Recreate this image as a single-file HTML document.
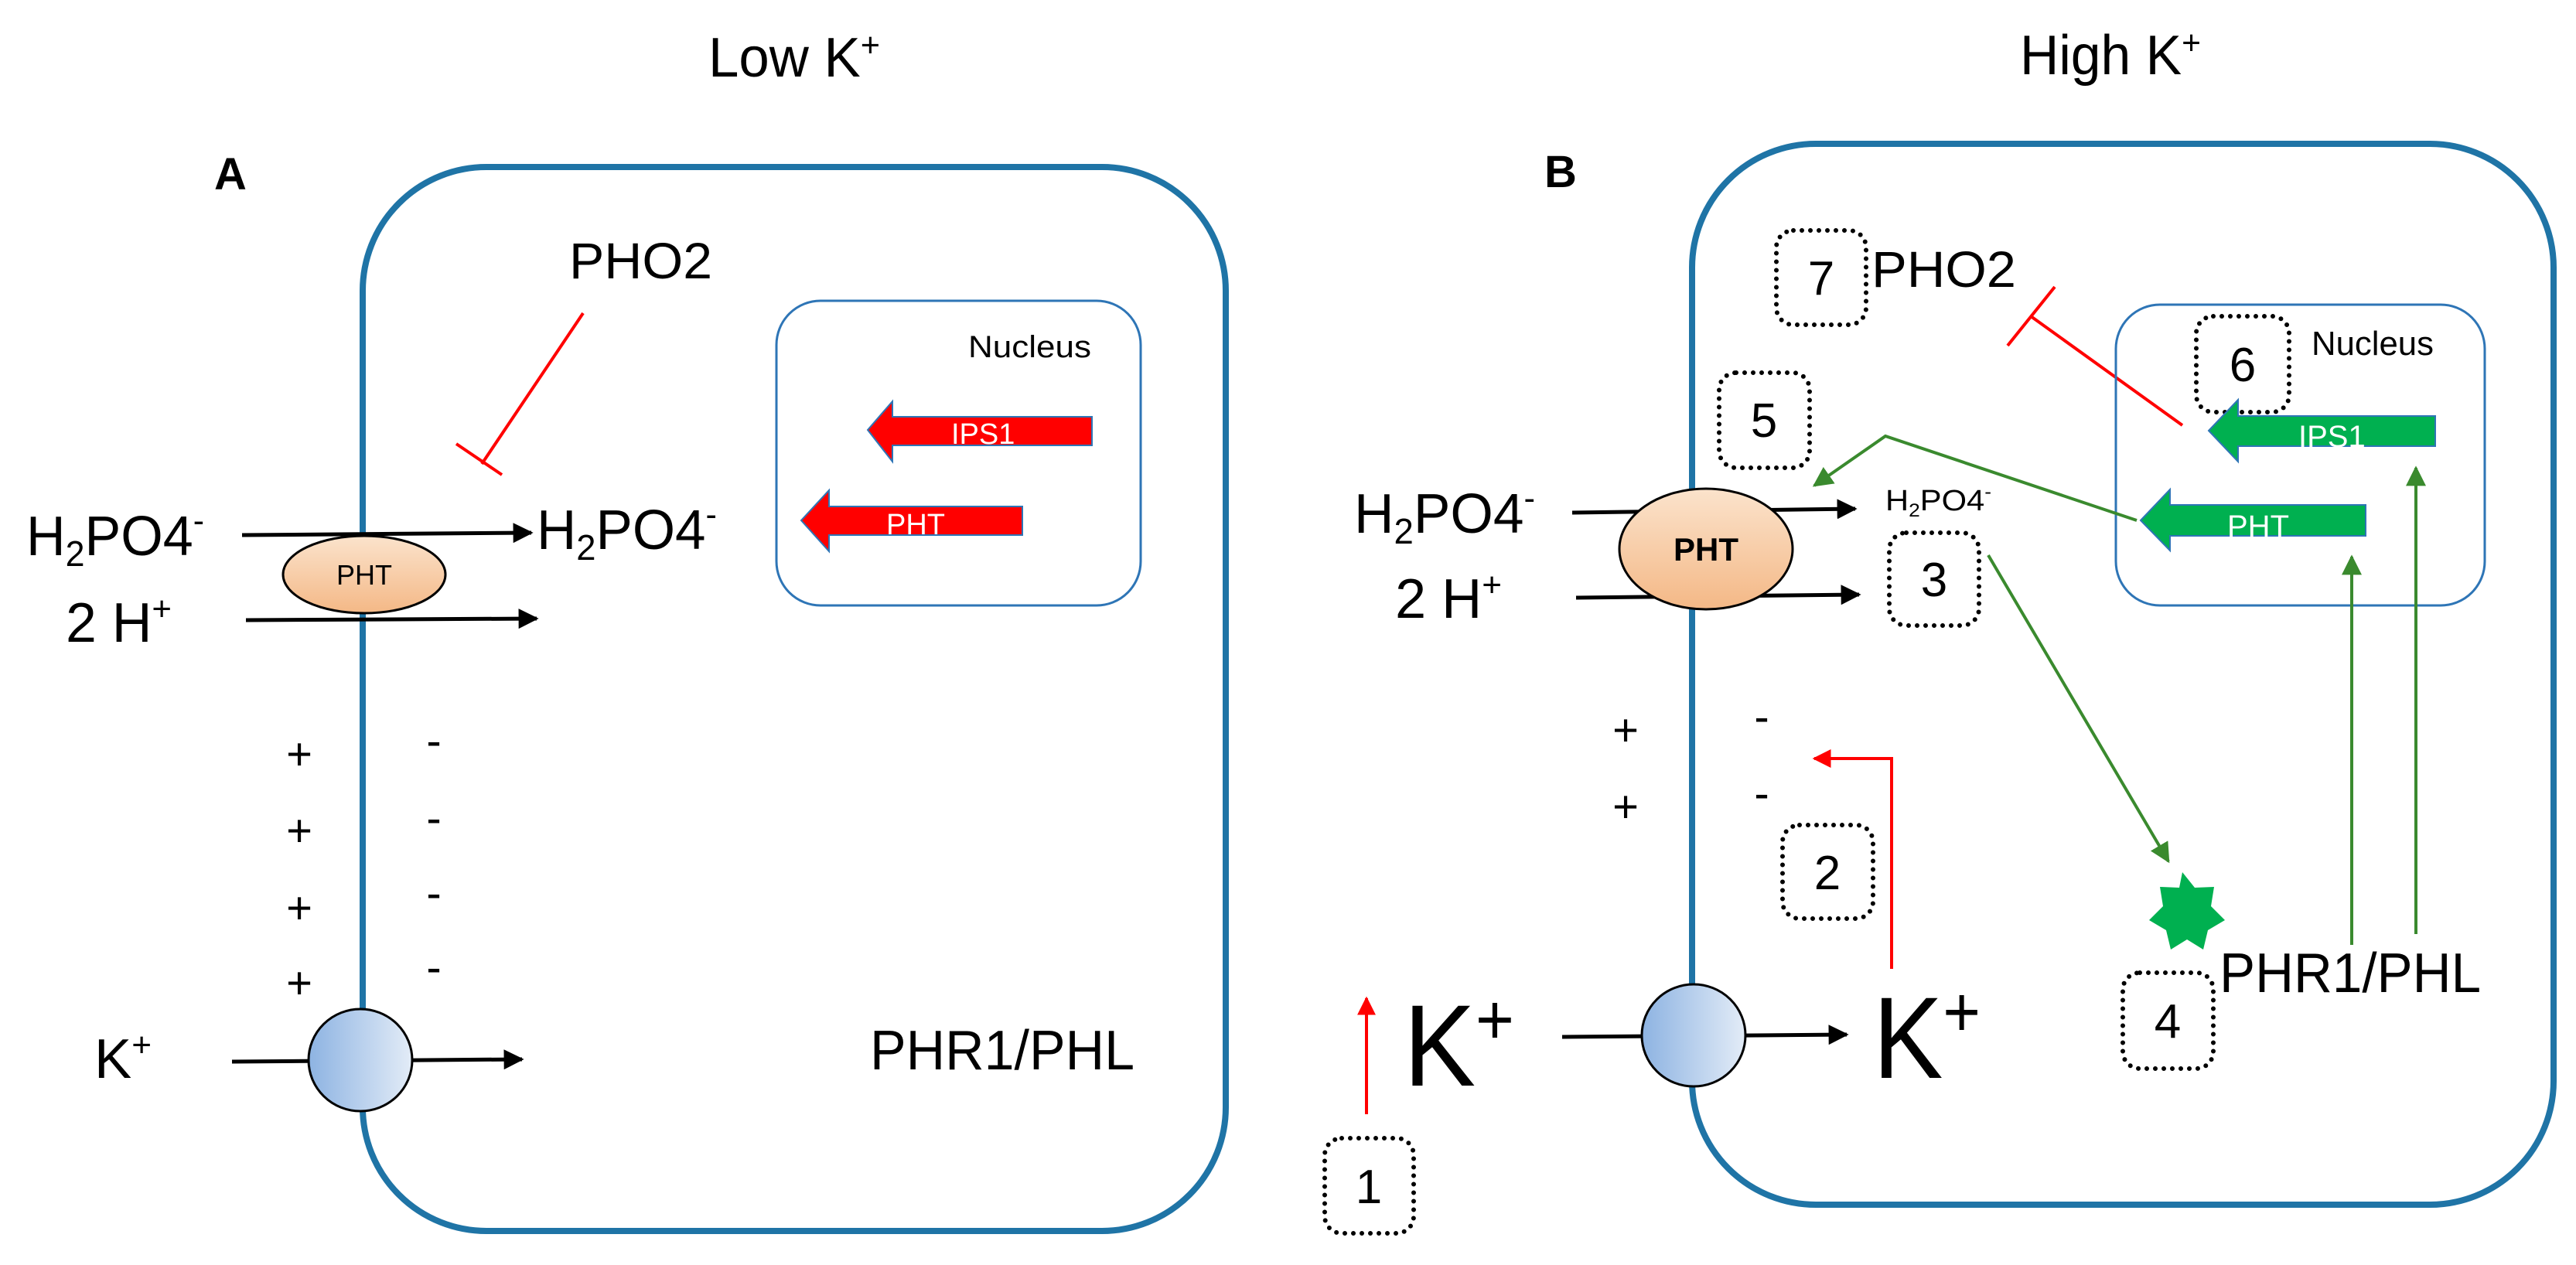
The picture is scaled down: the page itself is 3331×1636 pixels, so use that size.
<!DOCTYPE html>
<html><head><meta charset="utf-8"><style>html,body{margin:0;padding:0;background:#fff}svg{display:block}text{font-family:"Liberation Sans",sans-serif;fill:#000}</style></head>
<body>
<svg width="3331" height="1636" viewBox="0 0 3331 1636" xmlns="http://www.w3.org/2000/svg">
<defs>
<linearGradient id="peach" x1="0" y1="0" x2="0" y2="1"><stop offset="0" stop-color="#fbe3cc"/><stop offset="1" stop-color="#f4b886"/></linearGradient>
<linearGradient id="blue" x1="0" y1="0" x2="1" y2="0"><stop offset="0" stop-color="#8db3e2"/><stop offset="1" stop-color="#e3ecf7"/></linearGradient>
<marker id="ar" viewBox="0 0 10 10" refX="9" refY="5" markerWidth="24" markerHeight="24" orient="auto" markerUnits="userSpaceOnUse"><path d="M0,0 L10,5 L0,10z" fill="#f00"/></marker>
<marker id="ag" viewBox="0 0 10 10" refX="9" refY="5" markerWidth="26" markerHeight="26" orient="auto" markerUnits="userSpaceOnUse"><path d="M0,0 L10,5 L0,10z" fill="#3a8a2e"/></marker>
<marker id="abig" viewBox="0 0 10 10" refX="9" refY="5" markerWidth="26" markerHeight="26" orient="auto" markerUnits="userSpaceOnUse"><path d="M0,0 L10,5 L0,10z" fill="#000"/></marker>
</defs>

<!-- ===== Panel A ===== -->
<text x="916" y="99" font-size="72" textLength="222" lengthAdjust="spacingAndGlyphs">Low K<tspan font-size="44" dy="-26">+</tspan></text>
<text x="277" y="245" font-size="58" font-weight="bold">A</text>
<rect x="469" y="216" width="1116" height="1376" rx="160" fill="none" stroke="#1f74a6" stroke-width="8"/>
<text x="736" y="360" font-size="66" textLength="185" lengthAdjust="spacingAndGlyphs">PHO2</text>
<line x1="754" y1="405" x2="623" y2="600" stroke="#f00" stroke-width="4"/>
<line x1="590" y1="574" x2="649" y2="614" stroke="#f00" stroke-width="4"/>
<rect x="1004" y="389" width="471" height="394" rx="57" fill="none" stroke="#2e75b6" stroke-width="3"/>
<text x="1252" y="462" font-size="40" fill="#222" textLength="159" lengthAdjust="spacingAndGlyphs">Nucleus</text>
<path d="M1122,556 L1154,519 L1154,539 L1412,539 L1412,576 L1154,576 L1154,597 Z" fill="#f00" stroke="#2e75b6" stroke-width="2"/>
<text x="1230" y="574" font-size="38" style="fill:#fff">IPS1</text>
<path d="M1036,673 L1072,634 L1072,655 L1322,655 L1322,692 L1072,692 L1072,713 Z" fill="#f00" stroke="#2e75b6" stroke-width="2"/>
<text x="1146" y="691" font-size="38" style="fill:#fff">PHT</text>

<text x="34" y="718" font-size="72" textLength="230" lengthAdjust="spacingAndGlyphs">H<tspan font-size="46" dy="14">2</tspan><tspan dy="-14">PO4</tspan><tspan font-size="44" dy="-30">-</tspan></text>
<line x1="313" y1="692" x2="687" y2="689" stroke="#000" stroke-width="5" marker-end="url(#abig)"/>
<text x="694" y="710" font-size="72" textLength="233" lengthAdjust="spacingAndGlyphs">H<tspan font-size="46" dy="14">2</tspan><tspan dy="-14">PO4</tspan><tspan font-size="44" dy="-30">-</tspan></text>
<text x="85" y="830" font-size="72" textLength="137" lengthAdjust="spacingAndGlyphs">2 H<tspan font-size="44" dy="-28">+</tspan></text>
<line x1="318" y1="802" x2="694" y2="800" stroke="#000" stroke-width="5" marker-end="url(#abig)"/>
<ellipse cx="471" cy="743" rx="105" ry="50" fill="url(#peach)" stroke="#000" stroke-width="3"/>
<text x="471" y="756" font-size="36" text-anchor="middle" fill="#222">PHT</text>

<g font-size="58" text-anchor="middle">
<text x="387" y="995">+</text><text x="387" y="1094">+</text><text x="387" y="1194">+</text><text x="387" y="1291">+</text>
<text x="561" y="978">-</text><text x="561" y="1078">-</text><text x="561" y="1175">-</text><text x="561" y="1271">-</text>
</g>
<text x="122" y="1394" font-size="72" textLength="74" lengthAdjust="spacingAndGlyphs">K<tspan font-size="44" dy="-28">+</tspan></text>
<line x1="300" y1="1373" x2="675" y2="1370" stroke="#000" stroke-width="5" marker-end="url(#abig)"/>
<ellipse cx="466" cy="1371" rx="67" ry="66" fill="url(#blue)" stroke="#000" stroke-width="3"/>
<text x="1125" y="1383" font-size="72" textLength="342" lengthAdjust="spacingAndGlyphs">PHR1/PHL</text>

<!-- ===== Panel B ===== -->
<text x="2612" y="96" font-size="72" textLength="234" lengthAdjust="spacingAndGlyphs">High K<tspan font-size="44" dy="-26">+</tspan></text>
<text x="1997" y="242" font-size="58" font-weight="bold">B</text>
<rect x="2188" y="186" width="1114" height="1372" rx="160" fill="none" stroke="#1f74a6" stroke-width="8"/>

<g fill="none" stroke="#000" stroke-width="6" stroke-dasharray="0 11" stroke-linecap="round">
<rect x="2297" y="298" width="116" height="122" rx="22"/>
<rect x="2840" y="409" width="120" height="124" rx="22"/>
<rect x="2223" y="482" width="117" height="123" rx="22"/>
<rect x="2443" y="689" width="116" height="120" rx="22"/>
<rect x="2305" y="1067" width="117" height="121" rx="22"/>
<rect x="2745" y="1258" width="117" height="124" rx="22"/>
<rect x="1713" y="1472" width="115" height="123" rx="22"/>
</g>
<g font-size="62" text-anchor="middle">
<text x="2355" y="381">7</text><text x="2900" y="493">6</text><text x="2281" y="565">5</text>
<text x="2501" y="771">3</text><text x="2363" y="1150">2</text><text x="2803" y="1342">4</text><text x="1770" y="1556">1</text>
</g>

<text x="2420" y="371" font-size="66" textLength="187" lengthAdjust="spacingAndGlyphs">PHO2</text>
<line x1="2626" y1="409" x2="2822" y2="550" stroke="#f00" stroke-width="4"/>
<line x1="2596" y1="447" x2="2657" y2="371" stroke="#f00" stroke-width="4"/>

<rect x="2736" y="394" width="477" height="389" rx="57" fill="none" stroke="#2e75b6" stroke-width="3"/>
<text x="2989" y="459" font-size="44" fill="#222" textLength="158" lengthAdjust="spacingAndGlyphs">Nucleus</text>
<path d="M2856,557 L2894,517 L2894,538 L3149,538 L3149,577 L2894,577 L2894,597 Z" fill="#00b050" stroke="#2e75b6" stroke-width="2"/>
<text x="2972" y="578" font-size="40" style="fill:#fff">IPS1</text>
<path d="M2768,673 L2806,633 L2806,653 L3059,653 L3059,693 L2806,693 L2806,712 Z" fill="#00b050" stroke="#2e75b6" stroke-width="2"/>
<text x="2880" y="694" font-size="40" style="fill:#fff">PHT</text>

<polyline points="2763,673 2438,564 2346,628" fill="none" stroke="#3a8a2e" stroke-width="4" marker-end="url(#ag)"/>
<line x1="2571" y1="718" x2="2804" y2="1114" stroke="#3a8a2e" stroke-width="4" marker-end="url(#ag)"/>
<line x1="3041" y1="1222" x2="3041" y2="720" stroke="#3a8a2e" stroke-width="4" marker-end="url(#ag)"/>
<line x1="3124" y1="1208" x2="3124" y2="605" stroke="#3a8a2e" stroke-width="4" marker-end="url(#ag)"/>

<text x="1751" y="689" font-size="72" textLength="234" lengthAdjust="spacingAndGlyphs">H<tspan font-size="46" dy="14">2</tspan><tspan dy="-14">PO4</tspan><tspan font-size="44" dy="-30">-</tspan></text>
<line x1="2033" y1="663" x2="2399" y2="658" stroke="#000" stroke-width="5" marker-end="url(#abig)"/>
<text x="2438" y="660" font-size="38" textLength="137" lengthAdjust="spacingAndGlyphs">H<tspan font-size="24" dy="8">2</tspan><tspan dy="-8">PO4</tspan><tspan font-size="24" dy="-16">-</tspan></text>
<text x="1804" y="799" font-size="72" textLength="138" lengthAdjust="spacingAndGlyphs">2 H<tspan font-size="44" dy="-28">+</tspan></text>
<line x1="2038" y1="773" x2="2404" y2="769" stroke="#000" stroke-width="5" marker-end="url(#abig)"/>
<ellipse cx="2206" cy="710" rx="112" ry="78" fill="url(#peach)" stroke="#000" stroke-width="3"/>
<text x="2206" y="725" font-size="42" font-weight="bold" text-anchor="middle">PHT</text>

<g font-size="58" text-anchor="middle">
<text x="2102" y="964">+</text><text x="2102" y="1063">+</text>
<text x="2278" y="947">-</text><text x="2278" y="1046">-</text>
</g>
<polyline points="2446,1253 2446,981 2346,981" fill="none" stroke="#f00" stroke-width="4" marker-end="url(#ar)"/>

<polygon points="2822,1128 2838,1148 2863,1147 2859,1172 2877,1190 2855,1203 2849,1228 2828,1215 2807,1228 2801,1203 2779,1190 2797,1172 2793,1147 2818,1148" fill="#00b050"/>
<text x="2870" y="1283" font-size="72" textLength="338" lengthAdjust="spacingAndGlyphs">PHR1/PHL</text>

<line x1="1767" y1="1441" x2="1767" y2="1291" stroke="#f00" stroke-width="4" marker-end="url(#ar)"/>
<text x="1815" y="1404" font-size="150" textLength="143" lengthAdjust="spacingAndGlyphs">K<tspan font-size="92" dy="-54">+</tspan></text>
<line x1="2020" y1="1341" x2="2388" y2="1338" stroke="#000" stroke-width="5" marker-end="url(#abig)"/>
<ellipse cx="2190" cy="1339" rx="67" ry="66" fill="url(#blue)" stroke="#000" stroke-width="3"/>
<text x="2422" y="1394" font-size="150" textLength="139" lengthAdjust="spacingAndGlyphs">K<tspan font-size="92" dy="-54">+</tspan></text>
</svg>
</body></html>
